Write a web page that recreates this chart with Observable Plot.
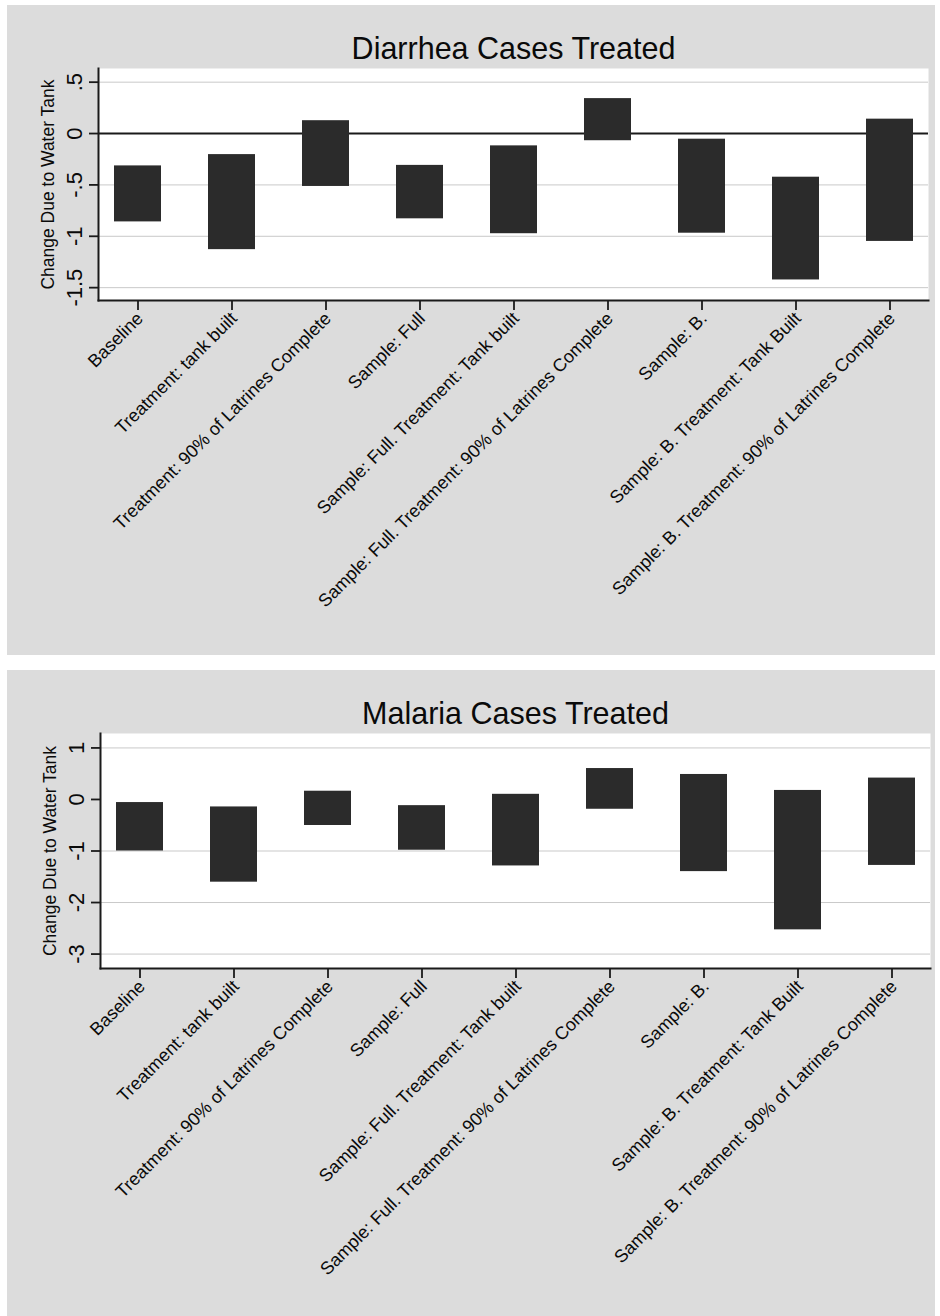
<!DOCTYPE html>
<html>
<head>
<meta charset="utf-8">
<script src="https://cdn.jsdelivr.net/npm/d3@7"></script>
<script src="https://cdn.jsdelivr.net/npm/@observablehq/plot@0.6"></script>
<style>
  html, body { margin: 0; padding: 0; background: #ffffff; }
  body { position: relative; width: 940px; height: 1316px; overflow: hidden; }
  .panel { position: absolute; }
  .panel svg { display: block; background: #dcdcdc; }
</style>
</head>
<body>
<div id="diarrhea" class="panel" style="left:7px; top:5px;"></div>
<div id="malaria" class="panel" style="left:7px; top:670px;"></div>
<script>
// Specifications compared in both panels
const categories = [
  "Baseline",
  "Treatment: tank built",
  "Treatment: 90% of Latrines Complete",
  "Sample: Full",
  "Sample: Full. Treatment: Tank built",
  "Sample: Full. Treatment: 90% of Latrines Complete",
  "Sample: B.",
  "Sample: B. Treatment: Tank Built",
  "Sample: B. Treatment: 90% of Latrines Complete"
];

// Diarrhea cases treated: lower and upper ends of each range
const diarrheaLow  = [-0.86, -1.13, -0.515, -0.83, -0.975, -0.07, -0.97, -1.425, -1.05];
const diarrheaHigh = [-0.315, -0.205, 0.125, -0.31, -0.12, 0.34, -0.055, -0.425, 0.14];
const diarrheaTicks = [0.5, 0, -0.5, -1, -1.5];
const diarrheaTickLabels = [".5", "0", "-.5", "-1", "-1.5"];
const diarrheaGrid = [0.5, -0.5, -1, -1.5];

// Malaria cases treated: lower and upper ends of each range
const malariaLow  = [-1.00, -1.605, -0.505, -0.985, -1.29, -0.19, -1.40, -2.53, -1.28];
const malariaHigh = [-0.06, -0.145, 0.16, -0.12, 0.10, 0.60, 0.485, 0.175, 0.415];
const malariaTicks = [1, 0, -1, -2, -3];
const malariaTickLabels = ["1", "0", "-1", "-2", "-3"];
const malariaGrid = [1, -1, -2, -3];

const FONT = "'Liberation Sans', Arial, Helvetica, sans-serif";
const BAR = "#2b2b2b";
const INK = "#0a0a0a";

function panel({title, low, high, ticks, tickLabels, grid, yDomain, zeroLine,
                height, marginLeft, marginRight, marginTop, marginBottom}) {
  const rows = categories.map((c, i) => ({cat: c, lo: low[i], hi: high[i]}));
  const tickRows = ticks.map((t, i) => ({v: t, label: tickLabels[i]}));
  return Plot.plot({
    width: 928,
    height,
    marginLeft, marginRight, marginTop, marginBottom,
    style: {fontFamily: FONT, background: "#dcdcdc", color: INK},
    x: {type: "band", domain: categories, paddingInner: 0.5, paddingOuter: 0.16, axis: null},
    y: {domain: yDomain, axis: null},
    marks: [
      Plot.frame({fill: "white", stroke: "none"}),
      Plot.ruleY(grid, {stroke: "#c9c9c9", strokeWidth: 1}),
      zeroLine ? Plot.ruleY([0], {stroke: "#1a1a1a", strokeWidth: 2}) : null,
      Plot.barY(rows, {x: "cat", y1: "lo", y2: "hi", fill: BAR}),
      // axis lines
      Plot.frame({anchor: "left", stroke: "#1a1a1a", strokeWidth: 2}),
      Plot.frame({anchor: "bottom", stroke: "#1a1a1a", strokeWidth: 2}),
      // tick marks
      Plot.axisY({ticks, tickSize: 9, tickFormat: () => "", label: null, stroke: "#1a1a1a", strokeWidth: 1.8}),
      Plot.axisX({tickSize: 10, tickFormat: () => "", label: null, stroke: "#1a1a1a", strokeWidth: 1.8}),
      // y tick labels, rotated
      Plot.text(tickRows, {
        y: "v", text: "label", frameAnchor: "left", rotate: -90,
        textAnchor: "middle", lineAnchor: "bottom", dx: -16.5, fontSize: 22, fill: INK
      }),
      // y axis title
      Plot.text(["Change Due to Water Tank"], {
        text: d => d, frameAnchor: "left", rotate: -90,
        textAnchor: "middle", lineAnchor: "bottom", dx: -45, fontSize: 17.5, fill: INK
      }),
      // x tick labels, slanted
      Plot.text(categories, {
        x: d => d, text: d => d, frameAnchor: "bottom", rotate: -45,
        textAnchor: "end", lineAnchor: "middle", dy: 15, dx: 2, fontSize: 18, fill: INK
      }),
      // panel title
      Plot.text([title], {
        text: d => d, frameAnchor: "top", lineAnchor: "bottom", dy: -10, fontSize: 30.5, fill: INK
      })
    ]
  });
}

document.getElementById("diarrhea").append(panel({
  title: "Diarrhea Cases Treated",
  low: diarrheaLow, high: diarrheaHigh,
  ticks: diarrheaTicks, tickLabels: diarrheaTickLabels, grid: diarrheaGrid,
  yDomain: [-1.625, 0.633], zeroLine: true,
  height: 650, marginLeft: 91, marginRight: 7, marginTop: 63, marginBottom: 355
}));

document.getElementById("malaria").append(panel({
  title: "Malaria Cases Treated",
  low: malariaLow, high: malariaHigh,
  ticks: malariaTicks, tickLabels: malariaTickLabels, grid: malariaGrid,
  yDomain: [-3.28, 1.28], zeroLine: false,
  height: 646, marginLeft: 93, marginRight: 5, marginTop: 63, marginBottom: 348
}));
</script>
</body>
</html>
